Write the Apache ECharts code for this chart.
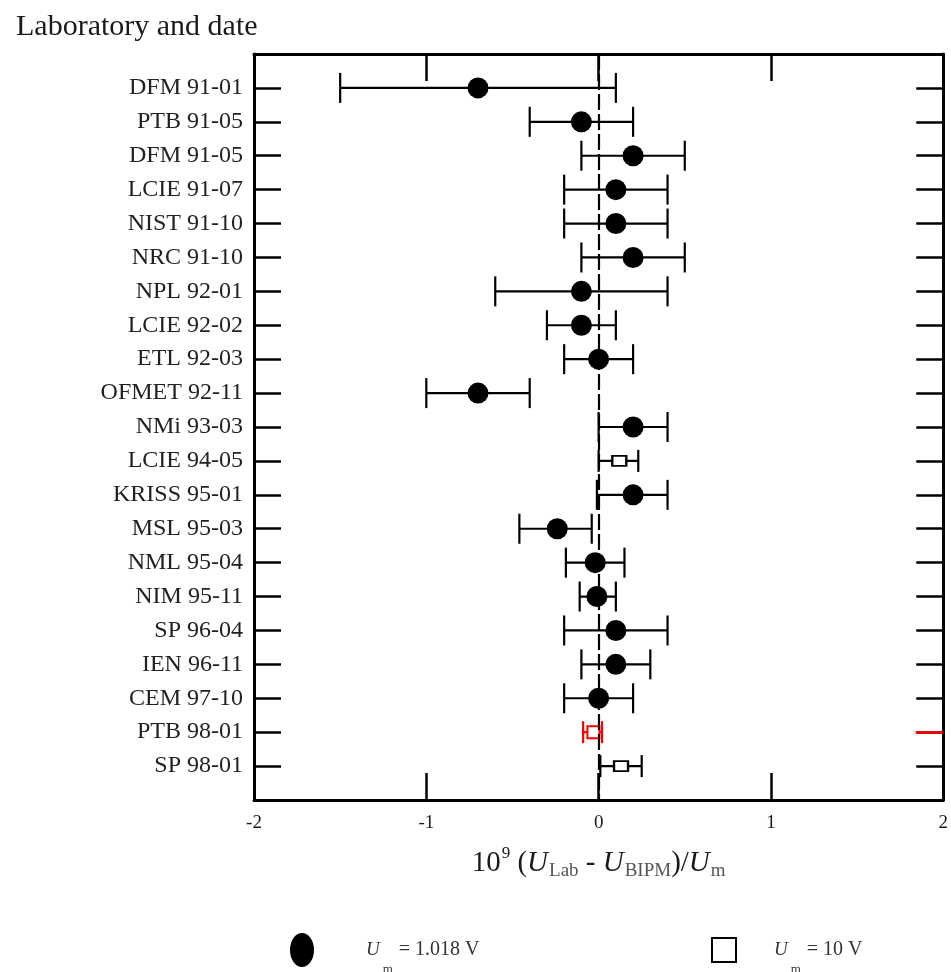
<!DOCTYPE html>
<html>
<head>
<meta charset="utf-8">
<script src="https://cdn.jsdelivr.net/npm/echarts@6/dist/echarts.min.js"></script>
<style>
  html, body { margin: 0; padding: 0; background: #fff; }
  #main { width: 951px; height: 972px; }
</style>
</head>
<body>
<div id="main"></div>
<script>
// laboratory / date rows, top to bottom
var labs = ['DFM 91-01', 'PTB 91-05', 'DFM 91-05', 'LCIE 91-07', 'NIST 91-10', 'NRC 91-10',
  'NPL 92-01', 'LCIE 92-02', 'ETL 92-03', 'OFMET 92-11', 'NMi 93-03', 'LCIE 94-05',
  'KRISS 95-01', 'MSL 95-03', 'NML 95-04', 'NIM 95-11', 'SP 96-04', 'IEN 96-11',
  'CEM 97-10', 'PTB 98-01', 'SP 98-01'];
// 10^9 (U_Lab - U_BIPM)/U_m
var values = [-0.7, -0.1, 0.2, 0.1, 0.1, 0.2, -0.1, -0.1, 0.0, -0.7, 0.2, 0.12,
  0.2, -0.24, -0.02, -0.01, 0.1, 0.1, 0.0, -0.03, 0.13];
var lows = [-1.5, -0.4, -0.1, -0.2, -0.2, -0.1, -0.6, -0.3, -0.2, -1.0, 0.0, 0.0,
  -0.01, -0.46, -0.19, -0.11, -0.2, -0.1, -0.2, -0.09, 0.01];
var highs = [0.1, 0.2, 0.5, 0.4, 0.4, 0.5, 0.4, 0.1, 0.2, -0.4, 0.4, 0.23,
  0.4, -0.04, 0.15, 0.1, 0.4, 0.3, 0.2, 0.02, 0.25];
// '1' = 1.018 V, '10' = 10 V
var kinds = ['1', '1', '1', '1', '1', '1', '1', '1', '1', '1', '1', '10',
  '1', '1', '1', '1', '1', '1', '1', '10', '10'];
var redRow = 'PTB 98-01';
var xTicks = [-2, -1, 0, 1, 2];

var serif = 'Liberation Serif';
var ink = '#1a1a1a';

var circles = [], squares = [], redPts = [], bars = [];
labs.forEach(function (lab, i) {
  var row = i + 1;
  var red = lab === redRow;
  bars.push([row, lows[i], highs[i], kinds[i] === '1' ? 15 : 11, red ? 1 : 0]);
  if (red) redPts.push([values[i], row]);
  else if (kinds[i] === '1') circles.push([values[i], row]);
  else squares.push([values[i], row]);
});
var redIdx = labs.indexOf(redRow) + 1;

function renderBar(params, api) {
  var row = api.value(0);
  var a = api.coord([api.value(1), row]);
  var b = api.coord([api.value(2), row]);
  var h = api.value(3);
  var col = api.value(4) ? '#f00' : '#000';
  var st = { stroke: col, lineWidth: 2.2 };
  return {
    type: 'group',
    children: [
      { type: 'line', shape: { x1: a[0], y1: a[1], x2: b[0], y2: b[1] }, style: st },
      { type: 'line', shape: { x1: a[0], y1: a[1] - h, x2: a[0], y2: a[1] + h }, style: st },
      { type: 'line', shape: { x1: b[0], y1: b[1] - h, x2: b[0], y2: b[1] + h }, style: st }
    ]
  };
}

var chart = echarts.init(document.getElementById('main'));

var axisLine = { onZero: false, lineStyle: { color: '#000', width: 3 } };
var tick = { inside: true, length: 27, lineStyle: { color: '#000', width: 2.5 } };

function legendRich(gap) {
  return {
    u: { fontFamily: serif, fontStyle: 'italic', fontSize: 19, color: '#333', padding: [0, 0, 0, gap] },
    s: { fontFamily: serif, fontSize: 13, color: '#333', padding: [40, 0, 0, 3] },
    t: { fontFamily: serif, fontSize: 20, color: '#333', padding: [0, 0, 0, 6] }
  };
}

var option = {
  animation: false,
  textStyle: { fontFamily: serif, color: ink },
  title: {
    text: 'Laboratory and date',
    left: 11,
    top: 7,
    textStyle: { fontFamily: serif, fontSize: 30, fontWeight: 'normal', color: ink }
  },
  grid: { left: 254, right: 7, top: 54, bottom: 172 },
  legend: [{
    data: ['1.018 V'],
    left: 285,
    top: 928,
    itemWidth: 26,
    itemHeight: 34,
    icon: 'path://M0,17a12,17 0 1,0 24,0a12,17 0 1,0 -24,0',
    formatter: function () { return '{u|U}{s|m}{t|= 1.018 V}'; },
    textStyle: { rich: legendRich(46) }
  }, {
    data: ['10 V'],
    left: 706,
    top: 932,
    itemWidth: 24,
    itemHeight: 24,
    icon: 'rect',
    formatter: function () { return '{u|U}{s|m}{t|= 10 V}'; },
    textStyle: { rich: legendRich(33) }
  }],
  xAxis: [{
    type: 'value',
    position: 'bottom',
    min: xTicks[0],
    max: xTicks[xTicks.length - 1],
    interval: 1,
    axisLine: axisLine,
    axisTick: tick,
    splitLine: { show: false },
    axisLabel: { fontFamily: serif, fontSize: 19, color: ink, margin: 14 },
    name: '{a|10}{sup|9}{a| (}{i|U}{sub|Lab}{a| - }{i|U}{sub|BIPM}{a|)/}{i|U}{sub|m}',
    nameLocation: 'middle',
    nameGap: 45,
    nameTextStyle: {
      rich: {
        a: { fontFamily: serif, fontSize: 29, color: ink },
        i: { fontFamily: serif, fontSize: 29, fontStyle: 'italic', color: ink },
        sup: { fontFamily: serif, fontSize: 17, color: ink, padding: [0, 0, 20, 1] },
        sub: { fontFamily: serif, fontSize: 19, color: '#555', padding: [16, 0, 0, 1] }
      }
    }
  }, {
    type: 'value',
    position: 'top',
    min: xTicks[0],
    max: xTicks[xTicks.length - 1],
    interval: 1,
    axisLine: axisLine,
    axisTick: tick,
    splitLine: { show: false },
    axisLabel: { show: false }
  }],
  yAxis: [{
    type: 'value',
    position: 'left',
    inverse: true,
    min: 0,
    max: labs.length + 1,
    interval: 1,
    axisLine: axisLine,
    axisTick: tick,
    splitLine: { show: false },
    axisLabel: {
      fontFamily: serif,
      fontSize: 24,
      color: '#222',
      margin: 11,
      formatter: function (v) { return labs[v - 1] || ''; }
    }
  }, {
    type: 'value',
    position: 'right',
    inverse: true,
    min: 0,
    max: labs.length + 1,
    interval: 1,
    axisLine: axisLine,
    axisTick: tick,
    splitLine: { show: false },
    axisLabel: { show: false }
  }],
  series: [{
    type: 'custom',
    name: 'bars',
    renderItem: renderBar,
    data: bars,
    encode: { x: [1, 2], y: 0 },
    silent: true,
    z: 3,
    markLine: {
      silent: true,
      symbol: 'none',
      label: { show: false },
      lineStyle: { color: '#000', width: 2.2, type: [16, 4] },
      data: [{ xAxis: 0 }]
    }
  }, {
    type: 'scatter',
    name: '1.018 V',
    symbol: 'circle',
    symbolSize: 21,
    itemStyle: { color: '#000', opacity: 1 },
    data: circles,
    z: 4
  }, {
    type: 'scatter',
    name: '10 V',
    symbol: 'rect',
    symbolSize: [14, 10],
    itemStyle: { color: '#fff', borderColor: '#000', borderWidth: 2, opacity: 1 },
    data: squares,
    z: 4
  }, {
    type: 'scatter',
    name: 'red',
    symbol: 'rect',
    symbolSize: [12, 12],
    itemStyle: { color: '#fff', borderColor: '#f00', borderWidth: 2, opacity: 1 },
    data: redPts,
    z: 4,
    markLine: {
      silent: true,
      symbol: 'none',
      label: { show: false },
      lineStyle: { color: '#f00', width: 2.5, type: 'solid' },
      data: [[{ coord: [1.84, redIdx] }, { coord: [2, redIdx] }]]
    }
  }]
};

chart.setOption(option);
</script>
</body>
</html>
